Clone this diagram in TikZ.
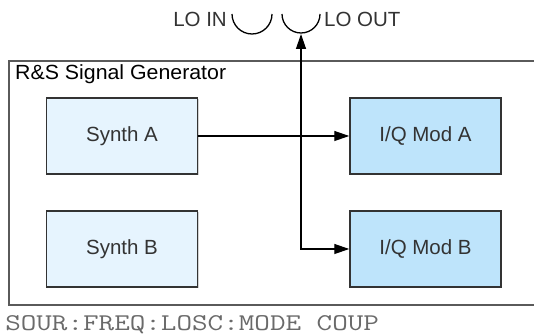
\documentclass[tikz,border=0pt]{standalone}
\usepackage{fontspec}
\setmainfont{Liberation Sans}
\usetikzlibrary{arrows.meta, positioning, shadows}

\definecolor{synthfill}{HTML}{E6F4FE}
\definecolor{modfill}{HTML}{BEE4FB}
\definecolor{boxline}{HTML}{333333}
\definecolor{framegray}{HTML}{5A5A5A}
\definecolor{codegray}{HTML}{6A6A6A}

\tikzset{
  block/.style={draw=boxline, line width=1.5pt, minimum width=151pt, minimum height=76pt,
    font=\fontsize{20.5}{24}\selectfont, text=black!80,
    drop shadow={shadow xshift=1.2pt, shadow yshift=-1.2pt, opacity=0.35}},
  synth/.style={block, fill=synthfill},
  iqmod/.style={block, fill=modfill},
  signal/.style={line width=1.3pt, -{Triangle[length=15pt, width=10pt]}},
  label/.style={font=\fontsize{20.5}{24}\selectfont, text=black!80, inner sep=0pt}
}

\begin{document}
\begin{tikzpicture}[x=1pt, y=1pt]
    \useasboundingbox (0,0) rectangle (534,336);

    % Define the points of the LO ports
    \coordinate (LI) at (252,322);
    \coordinate (LO) at (301,322);
    \coordinate (LObot) at (301,302);

    % Draw the generator frame
    \draw[framegray, line width=2pt] (9,31) rectangle (545,275);
    \node[label, anchor=base west, text=black, xscale=1.04] (title) at (15,256) {R\&S Signal Generator};

    % Place the blocks
    \node[synth] (SA) at (122,200) {Synth A};
    \node[synth] (SB) at (122,87) {Synth B};
    \node[iqmod] (MA) at (425.5,200) {I/Q Mod A};
    \node[iqmod] (MB) at (425.5,87) {I/Q Mod B};

    % Draw the signal paths
    \coordinate (J) at (LO |- SA);
    \draw[signal] (SA) -- (MA);
    \draw[signal] (J) -- (LObot);
    \draw[signal] (J) |- (MB);

    % Draw the LO connectors
    \draw[line width=1.3pt] (LI) ++(-20,0) arc[start angle=180, end angle=360, radius=20];
    \draw[line width=1.3pt] (LO) ++(-19,0) arc[start angle=180, end angle=360, radius=19];
    \node[label, anchor=east] (loin) at (227,316.5) {LO IN};
    \node[label, anchor=west] (loout) at (324,316.5) {LO OUT};

    % Place the remote command
    \node[anchor=base west, inner sep=0pt, text=codegray, xscale=1.26, font=\ttfamily\fontsize{24}{28}\selectfont] (cmd) at (5,5.5) {SOUR:FREQ:LOSC:MODE COUP};
\end{tikzpicture}
\end{document}
